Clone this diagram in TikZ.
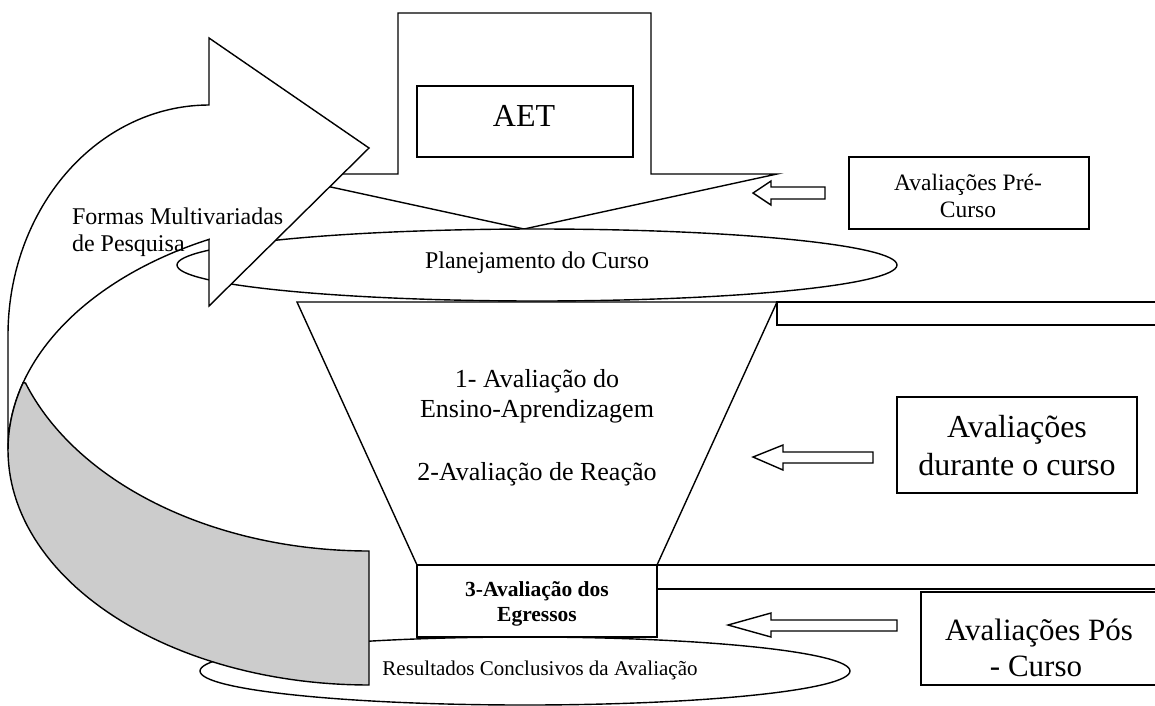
\documentclass[tikz,border=0pt]{standalone}
\usepackage{fontspec}
\setmainfont{Liberation Serif}
\definecolor{grayband}{HTML}{CCCCCC}
\tikzset{
  shp/.style={draw=black, fill=white, line width=1.4pt, line join=miter},
  greyshp/.style={draw=black, fill=grayband, line width=1.4pt},
  lbl/.style={inner sep=0pt, outer sep=0pt, anchor=base},
  lblw/.style={inner sep=0pt, outer sep=0pt, anchor=base west},
}
\newcommand{\fs}[1]{\fontsize{#1}{#1}\selectfont}
\begin{document}
\begin{tikzpicture}[x=1pt,y=-1pt]
\useasboundingbox (0,0) rectangle (1155,705);
\clip (0,0) rectangle (1155,705);

% block arrow with AET
\path[shp] (398,13) -- (651,13) -- (651,174) -- (777,174) -- (524,229) -- (271,174) -- (398,174) -- cycle;
\path[shp] (417,86) rectangle (633,157);
\node[lbl] (aet) at (524,126) {\fs{32}AET};

% Planejamento ellipse
\path[shp] (537,265) ellipse [x radius=360, y radius=36];
\node[lbl] (plan) at (537,268) {\fs{24}Planejamento do Curso};

% funnel and bars
\path[shp] (777,302) rectangle (1170,325);
\path[shp] (297,302) -- (777,302) -- (657,565) -- (417,565) -- cycle;
\node[lbl] (t1) at (537,387) {\fs{26}1- Avaliação do};
\node[lbl] (t2) at (537,417) {\fs{26}Ensino-Aprendizagem};
\node[lbl] (t3) at (537,480) {\fs{26}2-Avaliação de Reação};

% results ellipse and egressos box
\path[shp] (525,671) ellipse [x radius=325, y radius=34];
\node[lbl] (res) at (540,675) {\fs{21}Resultados Conclusivos da Avaliação};
\path[shp] (657,565) rectangle (1170,589);
\path[shp] (417,565) rectangle (657,637);
\node[lbl] (eg1) at (537,596) {\fs{21.5}\bfseries 3-Avaliação dos};
\node[lbl] (eg2) at (537,621) {\fs{21.5}\bfseries Egressos};

% right boxes
\path[shp] (849,157) rectangle (1089,229);
\node[lbl] (pre1) at (968,190) {\fs{23.5}Avaliações Pré-};
\node[lbl] (pre2) at (968,217) {\fs{23.5}Curso};
\path[shp] (897,397) rectangle (1137,493);
\node[lbl] (dur1) at (1017,437) {\fs{32}Avaliações};
\node[lbl] (dur2) at (1017,475) {\fs{32}durante o curso};
\path[shp] (921,592) rectangle (1170,685);
\node[lbl] (pos1) at (1039,640) {\fs{31}Avaliações Pós};
\node[lbl] (pos2) at (1036,676) {\fs{31}- Curso};

% hollow left arrows
\path[shp] (753,193) -- (771,181) -- (771,187) -- (825,187) -- (825,199) -- (771,199) -- (771,205) -- cycle;
\path[shp] (753,457) -- (783,445) -- (783,452) -- (873,452) -- (873,463) -- (783,463) -- (783,470) -- cycle;
\path[shp] (728,625) -- (771,613) -- (771,620) -- (897,620) -- (897,631) -- (771,631) -- (771,637) -- cycle;

% curved arrow: front band with head
\path[shp] (8,450) -- (8,335)
  -- plot[domain=180:270,samples=70] ({209+201*cos(\x)},{335+230*sin(\x)})
  -- (209,38) -- (369,148) -- (209,306) -- (209,240)
  -- plot[domain=243.7:180,samples=70] ({369+361*cos(\x)},{450+235*sin(\x)})
  -- cycle;
% curved arrow: shaded back band
\path[greyshp] plot[domain=160.7:90,samples=70] ({369+364*cos(\x)},{300+251*sin(\x)})
  -- (369,685)
  -- plot[domain=90:196.6,samples=70] ({369+361*cos(\x)},{450+235*sin(\x)})
  -- cycle;

\node[lblw] (fm1) at (72,224) {\fs{24}Formas Multivariadas};
\node[lblw] (fm2) at (72,251) {\fs{24}de Pesquisa};
\end{tikzpicture}
\end{document}
